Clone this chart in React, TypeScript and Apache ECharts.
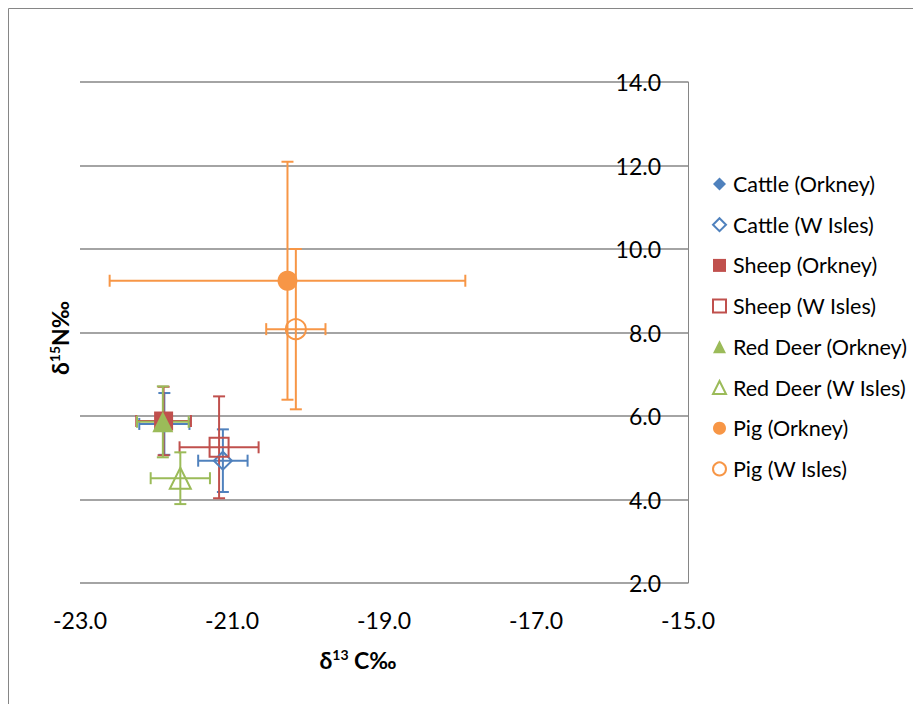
import React, { useEffect, useRef } from "react";
import * as echarts from "echarts";

const seriesNames = [
  "Cattle (Orkney)",
  "Cattle (W Isles)",
  "Sheep (Orkney)",
  "Sheep (W Isles)",
  "Red Deer (Orkney)",
  "Red Deer (W Isles)",
  "Pig (Orkney)",
  "Pig (W Isles)",
];
const carbon = [-21.89, -21.12, -21.9, -21.17, -21.91, -21.68, -20.27, -20.16];
const nitrogen = [5.81, 4.93, 5.88, 5.25, 5.86, 4.51, 9.24, 8.08];
const carbonErr = [0.33, 0.325, 0.36, 0.52, 0.34, 0.39, 2.34, 0.39];
const nitrogenErr = [0.74, 0.75, 0.82, 1.22, 0.85, 0.62, 2.85, 1.92];
const xTicks = [-23, -21, -19, -17, -15];
const yTicks = [2, 4, 6, 8, 10, 12, 14];

const colors = ["#4F81BD", "#4F81BD", "#C0504D", "#C0504D", "#9BBB59", "#9BBB59", "#F79646", "#F79646"];
const symbols = ["diamond", "diamond", "rect", "rect", "triangle", "triangle", "circle", "circle"];
const symbolSizes = [18, 18, 19, 19, 21, 21, 20, 20];
const filled = [true, false, true, false, true, false, true, false];

const FONT = "Lato, 'Open Sans', sans-serif";

export default function App() {
  const ref = useRef<HTMLDivElement>(null);
  useEffect(() => {
    if (!ref.current) return;
    const chart = echarts.init(ref.current, null, { renderer: "svg" });
    const series: any[] = [];
    seriesNames.forEach((name, i) => {
      const color = colors[i];
      series.push({
        type: "custom",
        name: name + " error",
        silent: true,
        clip: false,
        data: [[carbon[i], nitrogen[i], carbonErr[i], nitrogenErr[i]]],
        renderItem: (params: any, api: any) => {
          const x = api.value(0);
          const y = api.value(1);
          const ex = api.value(2);
          const ey = api.value(3);
          const l = api.coord([x - ex, y]);
          const r = api.coord([x + ex, y]);
          const t = api.coord([x, y + ey]);
          const b = api.coord([x, y - ey]);
          const cap = 6;
          const st = { stroke: color, lineWidth: 2 };
          const line = (x1: number, y1: number, x2: number, y2: number) => ({
            type: "line",
            shape: { x1, y1, x2, y2 },
            style: st,
          });
          return {
            type: "group",
            children: [
              line(l[0], l[1], r[0], r[1]),
              line(l[0], l[1] - cap, l[0], l[1] + cap),
              line(r[0], r[1] - cap, r[0], r[1] + cap),
              line(t[0], t[1], b[0], b[1]),
              line(t[0] - cap, t[1], t[0] + cap, t[1]),
              line(b[0] - cap, b[1], b[0] + cap, b[1]),
            ],
          };
        },
      });
      series.push({
        type: "scatter",
        name,
        symbol: symbols[i],
        symbolSize: symbolSizes[i],
        data: [[carbon[i], nitrogen[i]]],
        itemStyle: filled[i]
          ? { color, opacity: 1 }
          : { color: "rgba(255,255,255,0)", borderColor: color, borderWidth: 2, opacity: 1 },
      });
    });

    chart.setOption({
      animation: false,
      grid: { left: 80, right: 225, top: 82, bottom: 121 },
      legend: {
        orient: "vertical",
        left: 712,
        top: 173,
        padding: 0,
        data: seriesNames,
        itemWidth: 13,
        itemHeight: 13,
        itemGap: 18.7,
        textStyle: { fontFamily: FONT, fontSize: 21.5, lineHeight: 22, color: "#000", padding: [0, 0, 0, 2] },
      },
      xAxis: {
        type: "value",
        min: -23,
        max: -15,
        interval: 1,
        axisLine: { show: false },
        axisTick: { show: false },
        splitLine: { show: false },
        axisLabel: {
          margin: 25,
          fontFamily: FONT,
          fontSize: 23,
          color: "#000",
          formatter: (v: number) => (xTicks.includes(Math.round(v)) ? v.toFixed(1) : ""),
        },
      },
      yAxis: {
        type: "value",
        position: "right",
        min: 2,
        max: 14,
        interval: 2,
        axisLine: { show: true, onZero: false, lineStyle: { color: "#868686", width: 1 } },
        axisTick: { show: false },
        splitLine: { show: true, lineStyle: { color: "#868686", width: 1.5 } },
        axisLabel: {
          inside: true,
          margin: 27,
          fontFamily: FONT,
          fontSize: 23,
          color: "#000",
          formatter: (v: number) => (yTicks.includes(v) ? v.toFixed(1) : ""),
        },
      },
      graphic: [
        {
          type: "rect",
          shape: { x: 8.5, y: 8.5, width: 1200, height: 1200 },
          style: { fill: "none", stroke: "#868686", lineWidth: 1 },
          silent: true,
          z: -10,
        },
        {
          type: "text",
          x: 358,
          y: 660,
          style: {
            text: "{a|δ}{s|13}{a| C‰}",
            align: "center",
            verticalAlign: "middle",
            rich: {
              a: { fontFamily: FONT, fontSize: 23, fontWeight: "bold", fill: "#000" },
              s: { fontFamily: FONT, fontSize: 14, fontWeight: "bold", fill: "#000", padding: [0, 0, 11, 0] },
            },
          },
        },
        {
          type: "text",
          x: 60,
          y: 338,
          rotation: Math.PI / 2,
          style: {
            text: "{a|δ}{s|15}{a|N‰}",
            align: "center",
            verticalAlign: "middle",
            rich: {
              a: { fontFamily: FONT, fontSize: 23, fontWeight: "bold", fill: "#000" },
              s: { fontFamily: FONT, fontSize: 14, fontWeight: "bold", fill: "#000", padding: [0, 0, 11, 0] },
            },
          },
        },
      ],
      series,
    });
    return () => chart.dispose();
  }, []);
  return (
    <div
      ref={ref}
      style={{ position: "absolute", left: 0, top: 0, width: 913, height: 704, background: "#fff" }}
    />
  );
}
